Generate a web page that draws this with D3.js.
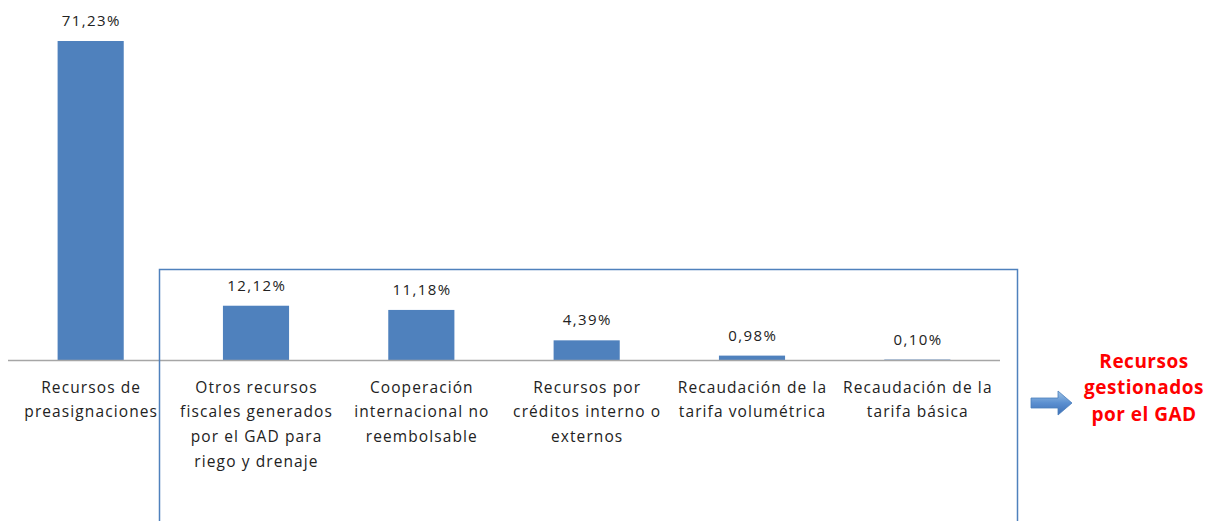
<!DOCTYPE html>
<html>
<head>
<meta charset="utf-8">
<script src="https://cdn.jsdelivr.net/npm/d3@7"></script>
<style>
  body { margin: 0; background: #fff; }
  svg text { font-family: "Open Sans", "Noto Sans", sans-serif; }
</style>
</head>
<body>
<div class="chart"></div>
<script>
var width = 1205, height = 521;

var categories = [
  ["Recursos de", "preasignaciones"],
  ["Otros recursos", "fiscales generados", "por el GAD para", "riego y drenaje"],
  ["Cooperación", "internacional no", "reembolsable"],
  ["Recursos por", "créditos interno o", "externos"],
  ["Recaudación de la", "tarifa volumétrica"],
  ["Recaudación de la", "tarifa básica"]
];
var values = [71.23, 12.12, 11.18, 4.39, 0.98, 0.10];
var valueLabels = ["71,23%", "12,12%", "11,18%", "4,39%", "0,98%", "0,10%"];
var noteLines = ["Recursos", "gestionados", "por el GAD"];

var svg = d3.select('.chart').append('svg')
  .attr('width', width)
  .attr('height', height);

var baseY = 360;

var x = d3.scaleBand()
  .domain(d3.range(values.length))
  .range([8, 1000])
  .paddingInner(0.6)
  .paddingOuter(0.3);

var y = d3.scaleLinear()
  .domain([0, 71.23])
  .range([baseY, 41]);

// bars
svg.selectAll('.bar').data(values).enter().append('rect')
  .attr('class', 'bar')
  .attr('x', function(d, i) { return x(i); })
  .attr('y', function(d) { return y(d); })
  .attr('width', x.bandwidth())
  .attr('height', function(d) { return baseY - y(d); })
  .attr('fill', '#4f81bd');

// value labels
svg.selectAll('.val').data(values).enter().append('text')
  .attr('class', 'val')
  .attr('x', function(d, i) { return x(i) + x.bandwidth() / 2 + 0.7; })
  .attr('y', function(d) { return y(d) - 15; })
  .attr('text-anchor', 'middle')
  .attr('font-size', 15)
  .attr('letter-spacing', 1.4)
  .attr('fill', '#222')
  .text(function(d, i) { return valueLabels[i]; });

// axis line
svg.append('line')
  .attr('x1', 8).attr('x2', 1000)
  .attr('y1', baseY + 0.5).attr('y2', baseY + 0.5)
  .attr('stroke', '#a6a6a6')
  .attr('stroke-width', 1.5);

// category labels
var cat = svg.selectAll('.cat').data(categories).enter().append('text')
  .attr('class', 'cat')
  .attr('text-anchor', 'middle')
  .attr('font-size', 15.5)
  .attr('letter-spacing', 1.1)
  .attr('fill', '#222');
cat.selectAll('tspan').data(function(d, i) { return d.map(function(t) { return {t: t, i: i}; }); })
  .enter().append('tspan')
  .attr('x', function(d) { return x(d.i) + x.bandwidth() / 2 + 0.5; })
  .attr('y', function(d, j) { return 392.5 + j * 24.7; })
  .text(function(d) { return d.t; });

// box around the GAD-managed resources
svg.append('rect')
  .attr('x', 159.5).attr('y', 269.5)
  .attr('width', 858).attr('height', 270)
  .attr('fill', 'none')
  .attr('stroke', '#4f81bd')
  .attr('stroke-width', 1.5);

// arrow
var grad = svg.append('defs').append('linearGradient')
  .attr('id', 'arrowGrad').attr('x1', 0).attr('y1', 0).attr('x2', 0).attr('y2', 1);
grad.append('stop').attr('offset', '0%').attr('stop-color', '#9dc3e6');
grad.append('stop').attr('offset', '50%').attr('stop-color', '#5b8fd0');
grad.append('stop').attr('offset', '100%').attr('stop-color', '#3d6fb5');

svg.append('path')
  .attr('d', 'M1031,398 L1058,398 L1058,391 L1072,403 L1058,415 L1058,408 L1031,408 Z')
  .attr('fill', 'url(#arrowGrad)')
  .attr('stroke', '#4a7ebb')
  .attr('stroke-width', 0.8);

svg.append('text')
  .attr('text-anchor', 'middle')
  .attr('font-size', 19)
  .attr('font-weight', 'bold')
  .attr('letter-spacing', 0.5)
  .attr('fill', '#ff0000')
  .selectAll('tspan').data(noteLines).enter().append('tspan')
  .attr('x', 1144)
  .attr('y', function(d, i) { return 368 + i * 26.3; })
  .text(function(d) { return d; });
</script>
</body>
</html>
